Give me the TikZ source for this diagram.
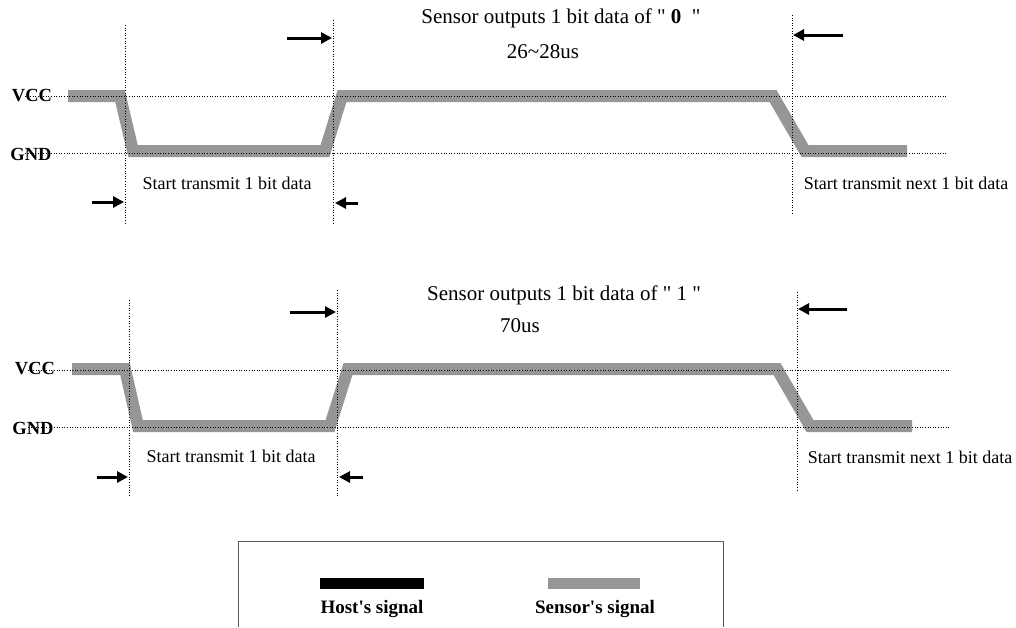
\documentclass[tikz,border=0pt]{standalone}
\usepackage{fontspec}
\setmainfont{Liberation Serif}
\usetikzlibrary{arrows.meta}
\definecolor{sensorgray}{RGB}{150,150,150}
\definecolor{framegray}{RGB}{90,90,90}
\newcommand{\dq}{\textquotedbl}
\tikzset{
  sig/.style={line width=12pt, color=sensorgray, line join=miter},
  guide/.style={line width=0.8pt, dash pattern=on 1pt off 1.6pt},
  marker/.style={line width=3pt, -{Triangle[length=11pt,width=11pt]}},
  lvl/.style={font=\bfseries\fontsize{18.5}{20}\selectfont, inner sep=0pt},
  lbl/.style={font=\fontsize{18}{20}\selectfont, inner sep=0pt},
  head/.style={font=\fontsize{21}{23}\selectfont, inner sep=0pt},
  legtext/.style={font=\bfseries\fontsize{19}{21}\selectfont, inner sep=0pt},
}
\begin{document}
\begin{tikzpicture}[x=1pt,y=-1pt]
\useasboundingbox (0,0) rectangle (1016,627);

% ---------------- bit "0" ----------------
\node[lvl] (vccA) at (32,96) {VCC};
\node[lvl] (gndA) at (31,154) {GND};
\draw[sig] (68,96) -- (120,96) -- (133,151) -- (325,151) -- (342,96)
           -- (773,96) -- (805,151) -- (907,151);

\coordinate (vccAs) at (25,96);  \coordinate (vccAe) at (948,96);
\coordinate (gndAs) at (25,153); \coordinate (gndAe) at (948,153);
\draw[guide] (vccAs) -- (vccAe);
\draw[guide] (gndAs) -- (gndAe);

\coordinate (tA1) at (125,25);  \coordinate (bA1) at (125,223);
\coordinate (tA2) at (333,20);  \coordinate (bA2) at (333,225);
\coordinate (tA3) at (792,15);  \coordinate (bA3) at (792,215);
\draw[guide] (tA1) -- (bA1);
\draw[guide] (tA2) -- (bA2);
\draw[guide] (tA3) -- (bA3);

\node[head] (hA) at (561,18) {Sensor outputs 1 bit data of \dq~\textbf{0}~~\dq};
\node[head] (dA) at (543,52) {26\textasciitilde28us};
\node[lbl] (sA) at (227,183) {Start transmit 1 bit data};
\node[lbl] (nA) at (906,183) {Start transmit next 1 bit data};

\coordinate (pA1) at (287,38);  \coordinate (qA1) at (332,38);
\coordinate (pA2) at (843,35);  \coordinate (qA2) at (793,35);
\coordinate (pA3) at (92,202);  \coordinate (qA3) at (124,202);
\coordinate (pA4) at (358,203); \coordinate (qA4) at (335,203);
\draw[marker] (pA1) -- (qA1);
\draw[marker] (pA2) -- (qA2);
\draw[marker] (pA3) -- (qA3);
\draw[marker] (pA4) -- (qA4);

% ---------------- bit "1" ----------------
\node[lvl] (vccB) at (35,369) {VCC};
\node[lvl] (gndB) at (33,428) {GND};
\draw[sig] (72,369) -- (125,369) -- (138,426) -- (330,426) -- (348,369)
           -- (777,369) -- (810,426) -- (912,426);

\coordinate (vccBs) at (28,370);  \coordinate (vccBe) at (950,370);
\coordinate (gndBs) at (28,427);  \coordinate (gndBe) at (950,427);
\draw[guide] (vccBs) -- (vccBe);
\draw[guide] (gndBs) -- (gndBe);

\coordinate (tB1) at (129,300); \coordinate (bB1) at (129,497);
\coordinate (tB2) at (337,290); \coordinate (bB2) at (337,497);
\coordinate (tB3) at (797,292); \coordinate (bB3) at (797,490);
\draw[guide] (tB1) -- (bB1);
\draw[guide] (tB2) -- (bB2);
\draw[guide] (tB3) -- (bB3);

\node[head] (hB) at (564,295) {Sensor outputs 1 bit data of \dq~1~\dq};
\node[head] (dB) at (520,326) {70us};
\node[lbl] (sB) at (231,456) {Start transmit 1 bit data};
\node[lbl] (nB) at (910,457) {Start transmit next 1 bit data};

\coordinate (pB1) at (290,312); \coordinate (qB1) at (336,312);
\coordinate (pB2) at (847,309); \coordinate (qB2) at (798,309);
\coordinate (pB3) at (97,477);  \coordinate (qB3) at (128,477);
\coordinate (pB4) at (363,477); \coordinate (qB4) at (339,477);
\draw[marker] (pB1) -- (qB1);
\draw[marker] (pB2) -- (qB2);
\draw[marker] (pB3) -- (qB3);
\draw[marker] (pB4) -- (qB4);

% ---------------- legend ----------------
\draw[framegray, line width=1pt] (238,627) -- (238,541) -- (723,541) -- (723,627);
\fill[black] (320,578) rectangle (424,589);
\fill[sensorgray] (548,578) rectangle (640,589);
\node[legtext] (host) at (372,609) {Host\textquotesingle s signal};
\node[legtext] (sens) at (595,609) {Sensor\textquotesingle s signal};
\end{tikzpicture}
\end{document}
